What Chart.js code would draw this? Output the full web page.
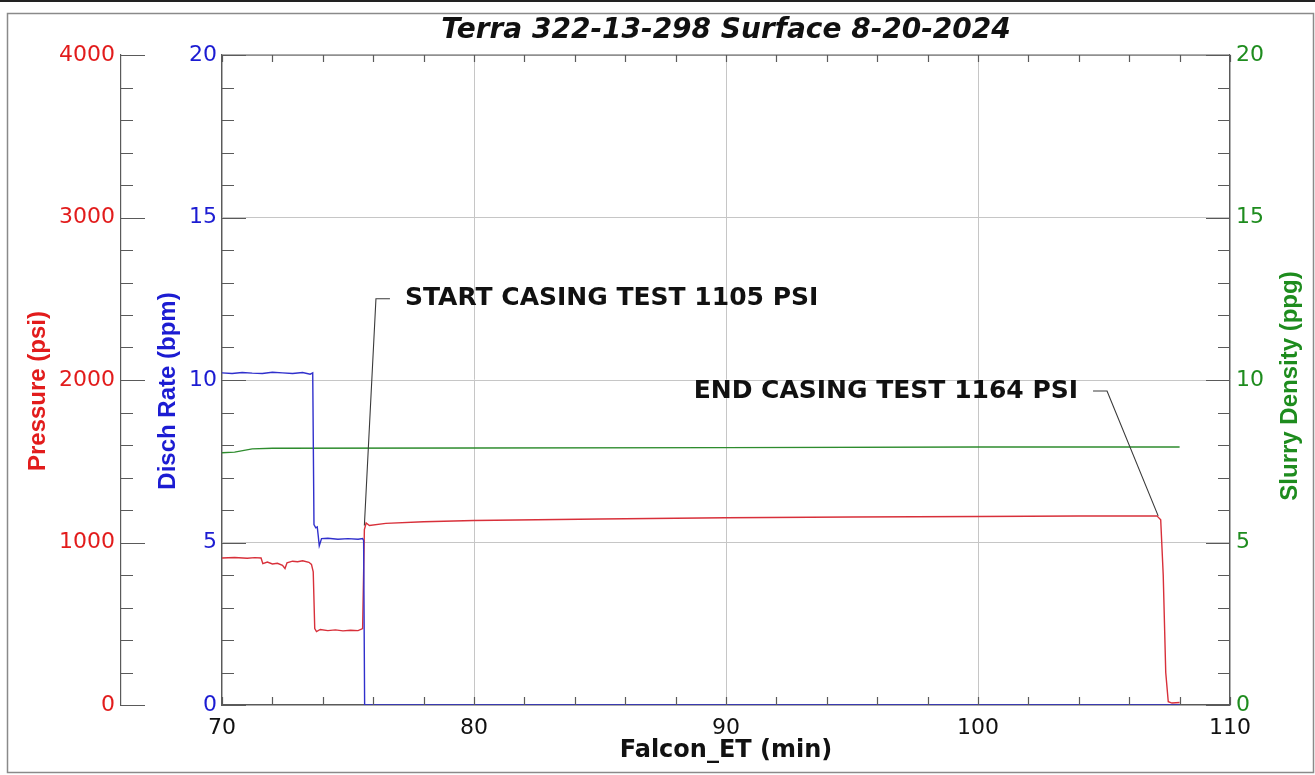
<!DOCTYPE html>
<html>
<head>
<meta charset="utf-8">
<title>Terra 322-13-298 Surface 8-20-2024</title>
<script src="https://cdn.jsdelivr.net/npm/chart.js@4.4.1/dist/chart.umd.min.js"></script>
<style>
  html, body { margin: 0; padding: 0; background: #fff; }
  #wrap { width: 1315px; height: 775px; }
</style>
</head>
<body>
<div id="wrap"><canvas id="surfaceChart" width="1315" height="775"></canvas></div>
<script>
// Disch Rate (bpm), blue
var rateTime = [70, 70.4, 70.8, 71.2, 71.6, 72.0, 72.4, 72.8, 73.2, 73.5, 73.6, 73.65, 73.72, 73.78, 73.82, 73.86, 73.95, 74.2, 74.6, 75.0, 75.4, 75.58, 75.62, 75.66, 80, 90, 100, 108];
var rateVals = [10.22, 10.2, 10.23, 10.21, 10.2, 10.24, 10.22, 10.2, 10.23, 10.18, 10.22, 5.55, 5.45, 5.48, 5.2, 4.9, 5.12, 5.13, 5.1, 5.12, 5.1, 5.12, 5.06, 0, 0, 0, 0, 0];

// Pressure (psi), red
var pressureTime = [70, 70.5, 71, 71.3, 71.55, 71.62, 71.8, 72.0, 72.2, 72.4, 72.5, 72.58, 72.8, 73.0, 73.2, 73.45, 73.55, 73.62, 73.68, 73.75, 73.9, 74.2, 74.5, 74.8, 75.1, 75.4, 75.58, 75.65, 75.72, 75.85, 76.5, 78, 80, 85, 90, 95, 100, 104, 107.1, 107.25, 107.35, 107.45, 107.55, 107.7, 108];
var pressureVals = [905, 908, 903, 907, 905, 870, 880, 868, 872, 860, 840, 875, 885, 882, 888, 878, 865, 820, 470, 452, 465, 458, 462, 456, 460, 458, 470, 1080, 1120, 1105, 1118, 1128, 1135, 1145, 1152, 1157, 1160, 1163, 1164, 1140, 800, 200, 20, 12, 15];

// Slurry Density (ppg), green
var densityTime = [70, 70.5, 71.2, 72, 80, 90, 100, 108];
var densityVals = [7.76, 7.78, 7.88, 7.9, 7.91, 7.92, 7.94, 7.94];

// tick labels
var timeTicks = [70, 80, 90, 100, 110];
var pressureTicks = [0, 1000, 2000, 3000, 4000];
var rateTicks = [0, 5, 10, 15, 20];
var densityTicks = [0, 5, 10, 15, 20];

// callouts: text and the data point each one points to
var noteText = ['START CASING TEST 1105 PSI', 'END CASING TEST 1164 PSI'];
var noteTime = [75.65, 107.15];
var notePressure = [1105, 1164];
// where the text sits, in axis units (min, psi)
var notePlace = [
    { x: 77.26, p: 2500, align: 'left' },
    { x: 103.97, p: 1932, align: 'right' }
];

var RED = '#e21c1c', BLUE = '#1c1cd2', GREEN = '#1e8c1e';
var AXIS = '#5a5a5a', GRID = '#c6c6c6';

function points(t, v) {
    return t.map(function (x, i) { return { x: x, y: v[i] }; });
}
function fixTicks(list) {
    return function (scale) { scale.ticks = list.map(function (v) { return { value: v }; }); };
}
function plain(value) {
    return String(value);
}
function vTitle(ctx, text, x, y, color) {
    ctx.save();
    ctx.translate(x, y);
    ctx.rotate(-Math.PI / 2);
    ctx.font = 'bold 24px "Liberation Sans", Arial, sans-serif';
    ctx.fillStyle = color;
    ctx.textAlign = 'center';
    ctx.textBaseline = 'middle';
    ctx.fillText(text, 0, 0);
    ctx.restore();
}

var decor = {
    id: 'decor',
    beforeDraw: function (chart) {
        var ctx = chart.ctx;
        ctx.save();
        ctx.fillStyle = '#fff';
        ctx.fillRect(0, 0, chart.width, chart.height);
        ctx.fillStyle = '#222';
        ctx.fillRect(0, 0, chart.width, 2);
        ctx.strokeStyle = '#8a8a8a';
        ctx.lineWidth = 1.5;
        ctx.strokeRect(7.5, 13.5, chart.width - 9, chart.height - 16);
        ctx.restore();
    },
    afterDraw: function (chart) {
        var ctx = chart.ctx, a = chart.chartArea, s = chart.scales;
        var v, p;
        ctx.save();
        ctx.strokeStyle = AXIS;
        ctx.lineWidth = 1.2;
        ctx.beginPath();
        ctx.moveTo(a.left, a.top);
        ctx.lineTo(a.right, a.top);
        // pressure axis ticks, pointing right
        for (v = 0; v <= 4000; v += 200) {
            p = Math.round(s.yP.getPixelForValue(v)) + 0.5;
            ctx.moveTo(s.yP.right, p);
            ctx.lineTo(s.yP.right + (v % 1000 === 0 ? 24 : 12), p);
        }
        // rate and density ticks, pointing into the plot
        for (v = 0; v <= 20; v += 1) {
            p = Math.round(s.yR.getPixelForValue(v)) + 0.5;
            ctx.moveTo(a.left, p);
            ctx.lineTo(a.left + (v % 5 === 0 ? 24 : 12), p);
            p = Math.round(s.yD.getPixelForValue(v)) + 0.5;
            ctx.moveTo(a.right, p);
            ctx.lineTo(a.right - (v % 5 === 0 ? 24 : 12), p);
        }
        // time ticks, bottom and top
        for (v = 70; v <= 110; v += 2) {
            p = Math.round(s.x.getPixelForValue(v)) + 0.5;
            ctx.moveTo(p, a.bottom);
            ctx.lineTo(p, a.bottom - 8);
            ctx.moveTo(p, a.top);
            ctx.lineTo(p, a.top + 7);
        }
        ctx.stroke();

        vTitle(ctx, 'Pressure (psi)', s.yP.left + 38, a.top + 336, RED);
        vTitle(ctx, 'Disch Rate (bpm)', s.yR.left + 47, a.top + 336, BLUE);
        vTitle(ctx, 'Slurry Density (ppg)', s.yD.right - 25, a.top + 331, GREEN);

        // callouts
        ctx.font = 'bold 25px "DejaVu Sans", sans-serif';
        ctx.fillStyle = '#111';
        ctx.textBaseline = 'middle';
        ctx.strokeStyle = '#3a3a3a';
        ctx.lineWidth = 1.1;
        noteText.forEach(function (text, i) {
            var place = notePlace[i];
            var lx = s.x.getPixelForValue(place.x), ly = s.yP.getPixelForValue(place.p);
            var tx = s.x.getPixelForValue(noteTime[i]), ty = s.yP.getPixelForValue(notePressure[i]);
            var dir = place.align === 'left' ? -1 : 1;
            ctx.textAlign = place.align;
            ctx.fillText(text, lx, ly);
            ctx.beginPath();
            ctx.moveTo(lx + dir * 15, ly);
            ctx.lineTo(lx + dir * 29, ly);
            ctx.lineTo(tx, ty);
            ctx.stroke();
        });
        ctx.restore();
    }
};

var surfaceChart = new Chart(document.getElementById('surfaceChart').getContext('2d'), {
    type: 'line',
    data: {
        datasets: [{
            label: 'Disch Rate',
            data: points(rateTime, rateVals),
            yAxisID: 'yR',
            borderColor: '#3030cc',
            borderWidth: 1.4
        }, {
            label: 'Pressure',
            data: points(pressureTime, pressureVals),
            yAxisID: 'yP',
            borderColor: '#d8303a',
            borderWidth: 1.4
        }, {
            label: 'Slurry Density',
            data: points(densityTime, densityVals),
            yAxisID: 'yD',
            borderColor: '#2e8c2e',
            borderWidth: 1.4
        }]
    },
    options: {
        responsive: false,
        animation: false,
        devicePixelRatio: 1,
        layout: { padding: 0 },
        elements: { point: { radius: 0 }, line: { tension: 0 } },
        plugins: {
            legend: { display: false },
            tooltip: { enabled: false },
            title: {
                display: true,
                fullSize: false,
                text: 'Terra 322-13-298 Surface 8-20-2024',
                color: '#111',
                font: { family: 'DejaVu Sans', size: 28, weight: 'bold', style: 'italic' },
                padding: { top: 14, bottom: 7.4 }
            }
        },
        scales: {
            x: {
                type: 'linear',
                position: 'bottom',
                min: 70,
                max: 110,
                afterBuildTicks: fixTicks(timeTicks),
                afterFit: function (scale) { scale.height = 70; },
                grid: { color: GRID, drawTicks: false },
                border: { color: AXIS, width: 1.2 },
                ticks: { color: '#111', padding: 10, maxRotation: 0, callback: plain, font: { family: 'DejaVu Sans', size: 22 } },
                title: {
                    display: true,
                    text: 'Falcon_ET (min)',
                    color: '#111',
                    font: { family: 'DejaVu Sans', size: 24, weight: 'bold' },
                    padding: { top: 0, bottom: 10 }
                }
            },
            yP: {
                type: 'linear',
                position: 'left',
                weight: 2,
                min: 0,
                max: 4000,
                afterBuildTicks: fixTicks(pressureTicks),
                afterFit: function (scale) { scale.width = 121; },
                grid: { drawOnChartArea: false, drawTicks: false },
                border: { color: AXIS, width: 1.2 },
                ticks: { color: RED, padding: 6, callback: plain, font: { family: 'DejaVu Sans', size: 22 } }
            },
            yR: {
                type: 'linear',
                position: 'left',
                weight: 1,
                min: 0,
                max: 20,
                afterBuildTicks: fixTicks(rateTicks),
                afterFit: function (scale) { scale.width = 101; },
                grid: { color: GRID, drawTicks: false },
                border: { color: AXIS, width: 1.2 },
                ticks: { color: BLUE, padding: 5, callback: plain, font: { family: 'DejaVu Sans', size: 22 } }
            },
            yD: {
                type: 'linear',
                position: 'right',
                min: 0,
                max: 20,
                afterBuildTicks: fixTicks(densityTicks),
                afterFit: function (scale) { scale.width = 85; },
                grid: { drawOnChartArea: false, drawTicks: false },
                border: { color: AXIS, width: 1.2 },
                ticks: { color: GREEN, padding: 6, callback: plain, font: { family: 'DejaVu Sans', size: 22 } }
            }
        }
    },
    plugins: [decor]
});
</script>
</body>
</html>
